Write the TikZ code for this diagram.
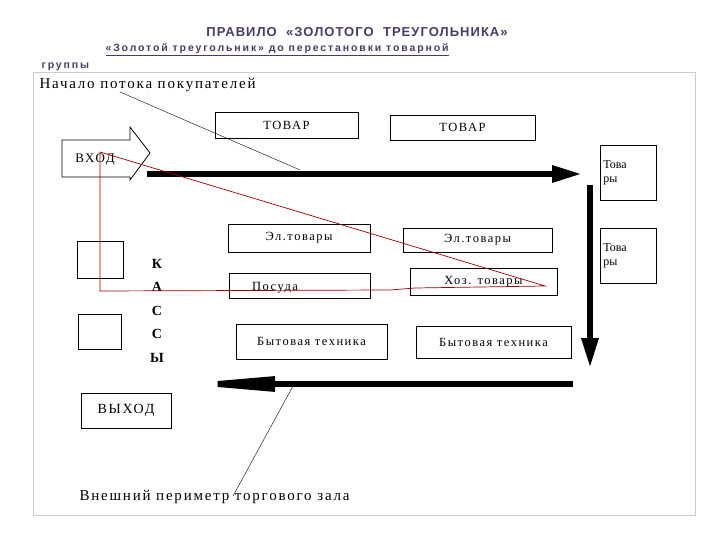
\documentclass[tikz,border=0pt]{standalone}
\usepackage{fontspec}
\setmainfont{Liberation Serif}
\newfontfamily\wide[LetterSpace=12]{Liberation Serif}
\newfontfamily\sans[LetterSpace=8]{Liberation Sans}
\newfontfamily\sanssub[LetterSpace=18]{Liberation Sans}
\usetikzlibrary{arrows.meta}
\definecolor{ttl}{HTML}{4A3A6A}
\tikzset{box/.style={draw,thick,inner sep=0pt,font=\wide\fontsize{12.5}{14}\selectfont},
 bigtxt/.style={font=\wide\fontsize{15}{17}\selectfont},
 thickarrow/.style={line width=6pt,-{Triangle[length=30pt,width=16pt]}},
 tri/.style={draw=red!60!black,line width=0.7pt}}
\begin{document}
\begin{tikzpicture}[x=1pt,y=-1pt]
\useasboundingbox (0,0) rectangle (720,540);
\fill[white] (0,0) rectangle (720,540);
\node[font=\sans\bfseries\fontsize{13}{15}\selectfont,text=ttl] (title) at (357,32) {ПРАВИЛО \ «ЗОЛОТОГО \ ТРЕУГОЛЬНИКА»};
\node[font=\sanssub\bfseries\fontsize{10.5}{12}\selectfont,text=ttl,anchor=west] (sub) at (102,50) {\underline{«Золотой треугольник» до перестановки товарной}};
\node[font=\sanssub\bfseries\fontsize{10.5}{12}\selectfont,text=ttl,anchor=west] (grp) at (38,67) {группы};
\draw[gray!40] (33,72) rectangle (695,515);
\node[anchor=west,bigtxt] (start) at (36,85) {Начало потока покупателей};
\node[box,minimum width=143,minimum height=26] (t1) at (286.5,125) {ТОВАР};
\node[box,minimum width=145,minimum height=25] (t2) at (462.5,127.5) {ТОВАР};
\draw[thick] (62,140) -- (130,140) -- (130,127) -- (150,153) -- (130,180) -- (130,177) -- (62,177) -- cycle;
\node[font=\wide\fontsize{13}{14}\selectfont] (vhod) at (95,160) {ВХОД};
\coordinate (a1s) at (147,174); \coordinate (a1e) at (582,174);
\draw[thickarrow] (a1s) -- (a1e);
\coordinate (a2s) at (590,185); \coordinate (a2e) at (590,368);
\draw[thickarrow] (a2s) -- (a2e);
\coordinate (a3s) at (573,384); \coordinate (a3e) at (175,384);
\draw[line width=6pt,-{Triangle[length=100pt,width=14pt]}] (a3s) -- (a3e);
\coordinate (s1) at (120,92); \coordinate (l1) at (300,170);
\draw (s1) -- (l1);
\node[box,minimum width=56,minimum height=55,align=left,text width=50,inner sep=3pt,anchor=north west,font=\fontsize{12}{14}\selectfont] (g1) at (600,145) {Това\\ры};
\node[box,minimum width=56,minimum height=55,align=left,text width=50,inner sep=3pt,anchor=north west,font=\fontsize{12}{14}\selectfont] (g2) at (600,228) {Това\\ры};
\node[box,minimum width=142,minimum height=28] (e1) at (299,238) {Эл.товары};
\node[box,minimum width=149,minimum height=24] (e2) at (477.5,240) {Эл.товары};
\node[box,minimum width=141,minimum height=25] (p1) at (299.5,285.5) {};
\node[font=\wide\fontsize{12.5}{14}\selectfont] (p1t) at (275,288) {Посуда};
\node[box,minimum width=147,minimum height=27] (h1) at (483.5,281.5) {Хоз. товары};
\node[box,minimum width=151,minimum height=35] (b1) at (311.5,341.5) {Бытовая техника};
\node[box,minimum width=155,minimum height=32] (b2) at (493.5,342) {Бытовая техника};
\node[draw,thick,minimum width=46,minimum height=37] (k1) at (100,259.5) {};
\node[draw,thick,minimum width=43,minimum height=35] (k2) at (99.5,331.5) {};
\foreach \l/\y in {К/264,А/287,С/311,С/334,Ы/358}
  \node[font=\fontsize{14}{15}\selectfont\bfseries] at (157,\y) {\l};
\node[draw,thick,minimum width=90,minimum height=35,font=\wide\fontsize{14}{15}\selectfont] (vyh) at (126,410.5) {ВЫХОД};
\node[anchor=west,bigtxt] (per) at (76,497) {Внешний периметр торгового зала};
\coordinate (l2) at (293,386); \coordinate (l3) at (233,496);
\draw (l2) -- (l3);
\coordinate (r1) at (100,152); \coordinate (r2) at (100,291); \coordinate (r3) at (545,286);
\draw[tri] (r1) -- (r2) -- (390,290) -- (415,288) -- (r3) -- cycle;
\end{tikzpicture}
\end{document}
